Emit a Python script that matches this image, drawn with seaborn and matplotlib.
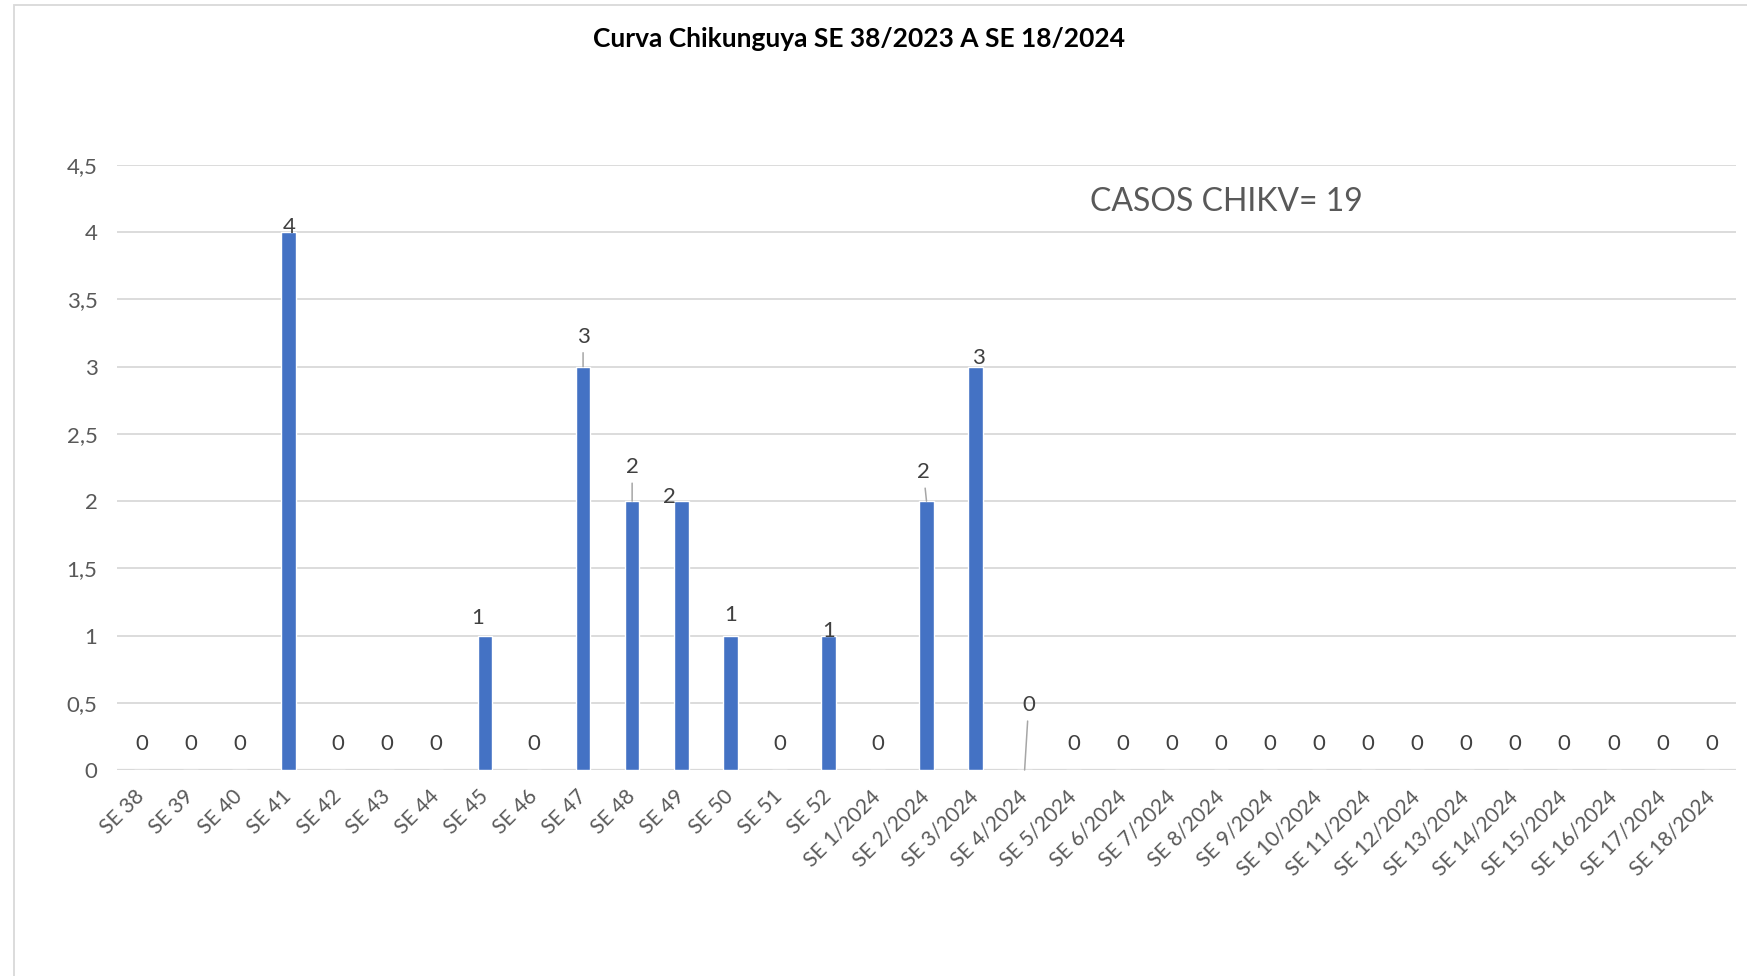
import matplotlib
matplotlib.use("Agg")
import matplotlib.pyplot as plt
import seaborn as sns
import pandas as pd
from matplotlib.patches import Rectangle

weeks = ["SE 38", "SE 39", "SE 40", "SE 41", "SE 42", "SE 43", "SE 44", "SE 45",
         "SE 46", "SE 47", "SE 48", "SE 49", "SE 50", "SE 51", "SE 52"] + \
        [f"SE {i}/2024" for i in range(1, 19)]
cases = [0, 0, 0, 4, 0, 0, 0, 1, 0, 3, 2, 2, 1, 0, 1,
         0, 2, 3, 0, 0, 0, 0, 0, 0, 0, 0, 0, 0, 0, 0, 0, 0, 0]
y_ticks = [0, 0.5, 1, 1.5, 2, 2.5, 3, 3.5, 4, 4.5]
y_tick_labels = ["0", "0,5", "1", "1,5", "2", "2,5", "3", "3,5", "4", "4,5"]
title = "Curva Chikunguya SE 38/2023 A SE 18/2024"
note = "CASOS CHIKV= 19"

df = pd.DataFrame({"semana": weeks, "casos": cases})

sns.set_theme(style="white")
plt.rcParams["font.family"] = ["Lato", "DejaVu Sans"]

DPI = 100
fig = plt.figure(figsize=(17.47, 9.76), dpi=DPI)
W, H = 1747, 976
left, right, bottom_px, top_px = 117, 1736, 770, 165
ax = fig.add_axes([left / W, 1 - bottom_px / H, (right - left) / W, (bottom_px - top_px) / H])

sns.barplot(data=df, x="semana", y="casos", color="#4472C4", saturation=1,
            width=0.3, ax=ax, zorder=3)

ax.set_ylim(0, 4.5)
ax.set_xlim(-0.5, len(weeks) - 0.5)
ax.set_yticks(y_ticks)
ax.set_yticklabels(y_tick_labels)
ax.yaxis.grid(True, color="#D9D9D9", lw=1.3, zorder=0)
ax.set_axisbelow(True)
for s in ax.spines.values():
    s.set_visible(False)
ax.axhline(0, color="#D9D9D9", lw=1.6, zorder=2)
ax.set_xlabel("")
ax.set_ylabel("")
ax.tick_params(axis="y", length=0, pad=14, labelsize=16, labelcolor="#595959")
ax.tick_params(axis="x", length=0, pad=17, labelsize=15, labelcolor="#595959")
for lbl in ax.get_xticklabels():
    lbl.set_rotation(45)
    lbl.set_ha("right")
    lbl.set_va("center")
    lbl.set_rotation_mode("anchor")

# data labels (offsets in pixels: dx, dy above bar top, leader line flag)
label_style = {3: (0, 5, False), 7: (-7, 18, False), 9: (0, 30, True),
               10: (0, 34, True), 11: (-12, 4, False), 12: (0, 21, False),
               14: (0, 5, False), 16: (-3, 29, True), 17: (3, 9, False),
               18: (4, 65, True)}
px2pt = 72 / DPI
for i, v in enumerate(cases):
    dx, dy, leader = label_style.get(i, (0, 26, False))
    kw = {}
    if leader:
        kw["arrowprops"] = dict(arrowstyle="-", color="#A6A6A6", lw=1.1,
                                shrinkA=2, shrinkB=0)
    ax.annotate(str(v), xy=(i, v), xytext=(dx * px2pt, dy * px2pt),
                textcoords="offset points", ha="center", va="center",
                fontsize=16, color="#404040", zorder=5, **kw)

fig.text(859 / W, 1 - 39 / H, title, ha="center", va="center",
         fontsize=19, fontweight="bold", color="black")
fig.text(1226 / W, 1 - 202 / H, note, ha="center", va="center",
         fontsize=23, color="#595959")

# chart area frame
fig.patches.append(Rectangle((14 / W, -0.05), 1.2, 1 - 4.5 / H + 0.05,
                             transform=fig.transFigure, fill=False,
                             edgecolor="#D9D9D9", lw=1.3))

fig.savefig("out.png", dpi=DPI)
